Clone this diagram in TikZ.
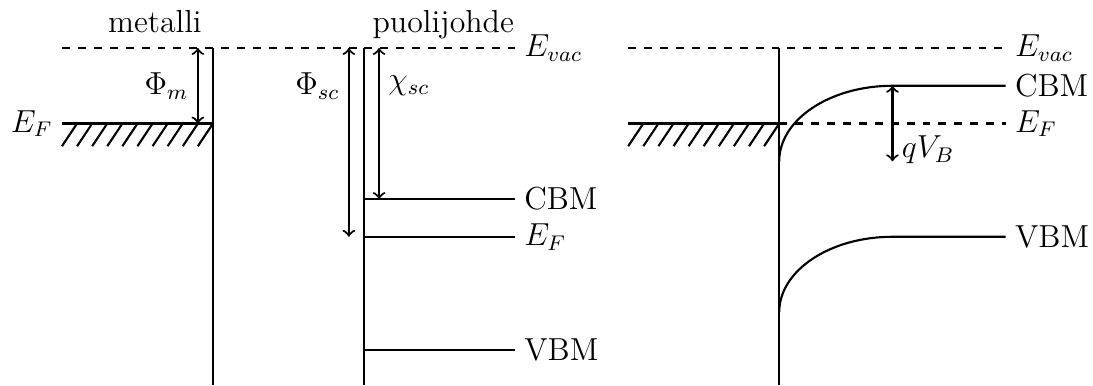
\documentclass[tikz,border=0pt]{standalone}
\usetikzlibrary{arrows}
\begin{document}
\begin{tikzpicture}[
  band/.style={thick},
  vac/.style={thick,dashed},
  gap/.style={thick,<->},
  hatchline/.style={thick},
  lbl/.style={inner sep=0.333em,font=\large}
]
\useasboundingbox (-0.821,-4.464) rectangle (13.656,0.636);
% coordinates
\coordinate (mvacL) at (0,0);
\coordinate (svacR) at (6,0);
\coordinate (mtop) at (2,0);
\coordinate (mbot) at (2,-4.464);
\coordinate (stop) at (4,0);
\coordinate (sbot) at (4,-4.464);
\coordinate (mEFL) at (0,-1);
\coordinate (mEFR) at (2,-1);
\coordinate (sCBL) at (4,-2);
\coordinate (sCBR) at (6,-2);
\coordinate (sEFL) at (4,-2.5);
\coordinate (sEFR) at (6,-2.5);
\coordinate (sVBL) at (4,-4);
\coordinate (sVBR) at (6,-4);
\coordinate (phimT) at (1.8,0);
\coordinate (phimB) at (1.8,-1);
\coordinate (phisT) at (3.8,0);
\coordinate (phisB) at (3.8,-2.5);
\coordinate (chiT) at (4.2,0);
\coordinate (chiB) at (4.2,-2);
% right panel
\coordinate (rvacL) at (7.5,0);
\coordinate (rvacR) at (12.5,0);
\coordinate (rtop) at (9.5,0);
\coordinate (rbot) at (9.5,-4.464);
\coordinate (rEFL) at (7.5,-1);
\coordinate (rEFM) at (9.5,-1);
\coordinate (rEFR) at (12.5,-1);
\coordinate (rCBs) at (9.5,-1.5);
\coordinate (rCBR) at (12.5,-0.5);
\coordinate (rVBs) at (9.5,-3.5);
\coordinate (rVBR) at (12.5,-2.5);
\coordinate (qvT) at (11,-0.5);
\coordinate (qvB) at (11,-1.5);

% left panel
\draw[vac] (mvacL) -- (svacR);
\draw[band] (mtop) -- (mbot);
\draw[band] (stop) -- (sbot);
\draw[hatchline] (mEFL) -- (mEFR);
\foreach \k in {0,...,9}
  \draw[band] ({0.2+0.2*\k},-1) -- ({0.2*\k},-1.3);
\draw[band] (sCBL) -- (sCBR);
\draw[band] (sEFL) -- (sEFR);
\draw[band] (sVBL) -- (sVBR);
\draw[gap] (phimT) -- (phimB);
\draw[gap] (phisT) -- (phisB);
\draw[gap] (chiT) -- (chiB);

\node[lbl,anchor=base] (metalli) at (1.23,0.21) {metalli};
\node[lbl,anchor=base] (puoli) at (5.05,0.21) {puolijohde};
\node[lbl,right] (evac1) at (svacR) {$E_{vac}$};
\node[lbl,left] (ef1) at (mEFL) {$E_F$};
\node[lbl,left] (phim) at (1.8,-0.5) {$\Phi_m$};
\node[lbl,left] (phis) at (3.8,-0.5) {$\Phi_{sc}$};
\node[lbl,right] (chi) at (4.2,-0.5) {$\chi_{sc}$};
\node[lbl,right] (cbm1) at (sCBR) {CBM};
\node[lbl,right] (ef2) at (sEFR) {$E_F$};
\node[lbl,right] (vbm1) at (sVBR) {VBM};

% right panel
\draw[vac] (rvacL) -- (rvacR);
\draw[band] (rtop) -- (rbot);
\draw[hatchline] (rEFL) -- (rEFM);
\foreach \k in {0,...,9}
  \draw[band] ({7.7+0.2*\k},-1) -- ({7.5+0.2*\k},-1.3);
\draw[vac] (rEFM) -- (rEFR);
\draw[band] (rCBs) arc[start angle=180,end angle=90,x radius=1.5,y radius=1] -- (rCBR);
\draw[band] (rVBs) arc[start angle=180,end angle=90,x radius=1.5,y radius=1] -- (rVBR);
\draw[gap] (qvT) -- (qvB);

\node[lbl,right] (evac2) at (rvacR) {$E_{vac}$};
\node[lbl,right] (cbm2) at (rCBR) {CBM};
\node[lbl,right] (ef3) at (rEFR) {$E_F$};
\node[lbl,right] (vbm2) at (rVBR) {VBM};
\node[lbl,right] (qvb) at (11,-1.35) {$qV_B$};
\end{tikzpicture}
\end{document}
